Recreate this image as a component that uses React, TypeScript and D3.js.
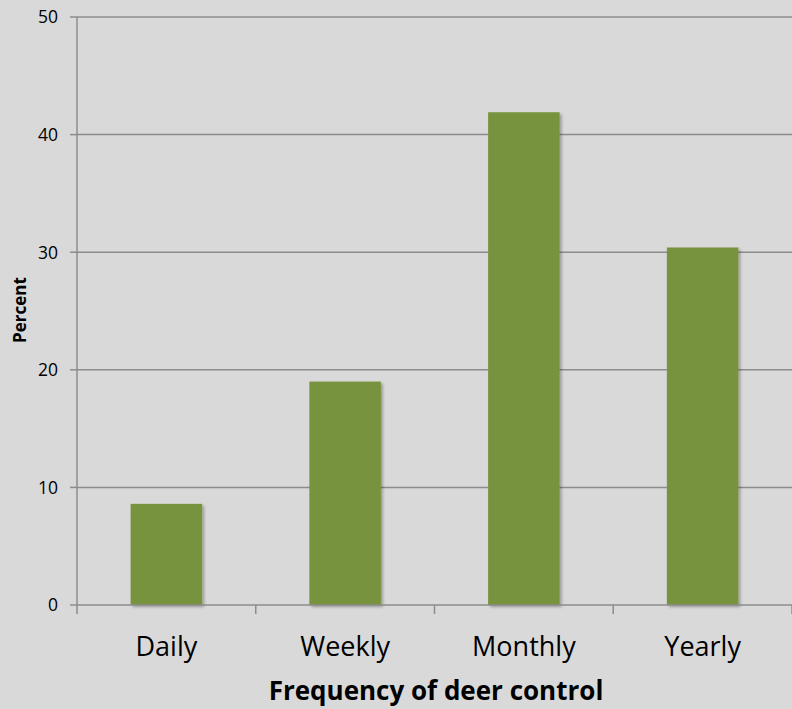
import React from "react";
import * as d3 from "d3";

const categories = ["Daily", "Weekly", "Monthly", "Yearly"];
const values = [8.6, 19.0, 41.9, 30.4];
const yTicks = [0, 10, 20, 30, 40, 50];

const W = 792, H = 709;
const M = { left: 77, right: 792, top: 17, bottom: 605 };

export default function App() {
  const x = d3.scaleBand<string>().domain(categories).range([M.left, M.right]).paddingInner(0).paddingOuter(0);
  const y = d3.scaleLinear().domain([0, 50]).range([M.bottom, M.top]);
  const bw = x.bandwidth() * 0.4;
  const font = "'Open Sans', sans-serif";
  const boundaries = [...categories.map((c) => x(c)!), M.right];
  return (
    <svg width={W} height={H} style={{ position: "absolute", left: 0, top: 0 }}>
      <defs>
        <filter id="sh" x="-10%" y="-10%" width="130%" height="130%">
          <feGaussianBlur in="SourceAlpha" stdDeviation="1.5" />
          <feOffset dx="1.5" dy="1.5" result="b" />
          <feComponentTransfer><feFuncA type="linear" slope="0.3" /></feComponentTransfer>
          <feMerge><feMergeNode /><feMergeNode in="SourceGraphic" /></feMerge>
        </filter>
      </defs>
      <rect x={0} y={0} width={W} height={H} fill="#d9d9d9" />
      {yTicks.map((t) => (
        <g key={t}>
          {t > 0 && <line x1={M.left} x2={M.right} y1={y(t)} y2={y(t)} stroke="#8c8c8c" strokeWidth={1.5} />}
          <line x1={70} x2={M.left} y1={y(t)} y2={y(t)} stroke="#8c8c8c" strokeWidth={1.5} />
          <text x={58} y={y(t)} dy="0.36em" textAnchor="end" fontFamily={font} fontSize={17.5} fill="#000">{t}</text>
        </g>
      ))}
      {categories.map((c, i) => (
        <rect key={c} x={x(c)! + (x.bandwidth() - bw) / 2} y={y(values[i])} width={bw} height={y(0) - y(values[i])} fill="#77933c" filter="url(#sh)" />
      ))}
      <line x1={M.left} x2={M.left} y1={M.top} y2={M.bottom} stroke="#8c8c8c" strokeWidth={1.5} />
      <line x1={M.left} x2={M.right} y1={M.bottom} y2={M.bottom} stroke="#8c8c8c" strokeWidth={1.5} />
      {boundaries.map((b, i) => (
        <line key={i} x1={b} x2={b} y1={M.bottom} y2={M.bottom + 9} stroke="#8c8c8c" strokeWidth={1.5} />
      ))}
      {categories.map((c) => (
        <text key={c} x={x(c)! + x.bandwidth() / 2} y={656} textAnchor="middle" fontFamily={font} fontSize={27} fill="#000">{c}</text>
      ))}
      <text x={436} y={700} textAnchor="middle" fontFamily={font} fontSize={26} fontWeight="bold" fill="#000">Frequency of deer control</text>
      <text transform={`translate(26,${310}) rotate(-90)`} textAnchor="middle" fontFamily={font} fontSize={17} fontWeight="bold" fill="#000">Percent</text>
    </svg>
  );
}
